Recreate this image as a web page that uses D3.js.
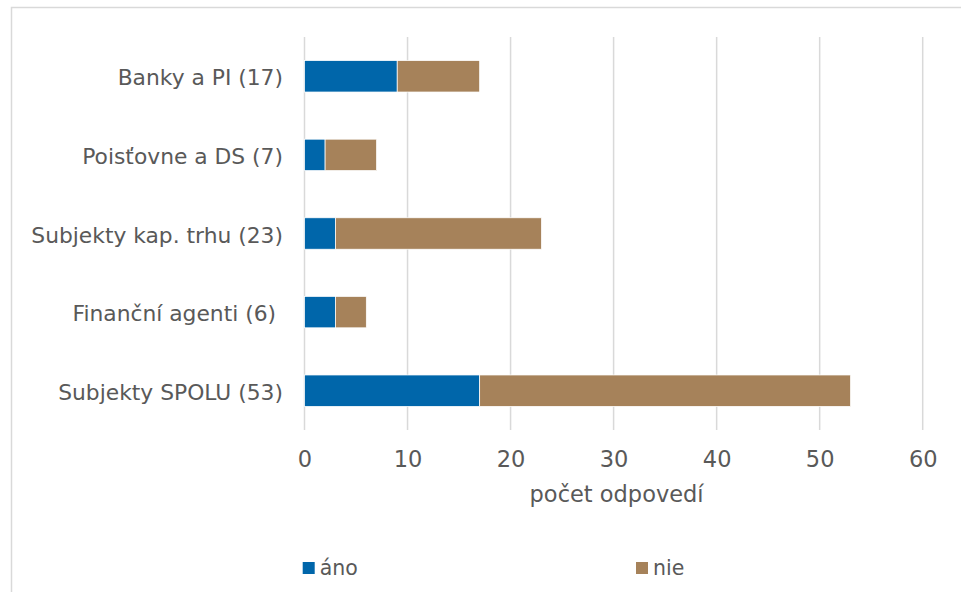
<!DOCTYPE html>
<html>
<head>
<meta charset="utf-8">
<script src="https://cdn.jsdelivr.net/npm/d3@7"></script>
<style>
  html, body { margin: 0; padding: 0; background: #fff; }
  svg { display: block; font-family: Verdana, "DejaVu Sans", sans-serif; }
  text { white-space: pre; }
</style>
</head>
<body>
<svg id="chart" width="961" height="592"></svg>
<script>
// Categories (top to bottom) and the two answer series
const categories = ["Banky a PI (17)", "Poisťovne a DS (7)", "Subjekty kap. trhu (23)", "Finanční agenti (6) ", "Subjekty SPOLU (53)"];
const ano = [9, 2, 3, 3, 17];
const nie = [8, 5, 20, 3, 36];
const seriesNames = ["áno", "nie"];
const seriesColors = ["#0066AA", "#A6825A"];
const xTicks = [0, 10, 20, 30, 40, 50, 60];
const xTitle = "počet odpovedí";

const svg = d3.select("#chart");
const textColor = "#595959";
const gridColor = "#D9D9D9";
const fontSize = 22.5;
const labelSize = 21.8;

// outer frame
svg.append("rect")
  .attr("x", 11.5).attr("y", 7.5)
  .attr("width", 1000).attr("height", 700)
  .attr("fill", "none").attr("stroke", gridColor).attr("stroke-width", 1.5);

const plot = { left: 304.5, right: 922.7, top: 37, bottom: 430 };

const x = d3.scaleLinear().domain([0, 60]).range([plot.left, plot.right]);
const y = d3.scaleBand().domain(categories).range([plot.top, plot.bottom]).paddingInner(0.6).paddingOuter(0.3);

// vertical gridlines
svg.append("g").selectAll("line").data(xTicks).join("line")
  .attr("x1", d => x(d)).attr("x2", d => x(d))
  .attr("y1", plot.top).attr("y2", plot.bottom)
  .attr("stroke", gridColor).attr("stroke-width", 1.5);

// x axis tick labels
const xAxis = d3.axisBottom(x).tickValues(xTicks).tickSize(0).tickPadding(0).tickFormat(d3.format("d"));
const gx = svg.append("g").attr("transform", `translate(0,${plot.bottom})`).call(xAxis);
gx.select(".domain").remove();
gx.selectAll("text").attr("fill", textColor).attr("font-size", fontSize).attr("y", 37).attr("dy", 0)
  .style("font-family", "Verdana, 'DejaVu Sans', sans-serif");

// axis title
svg.append("text")
  .attr("x", (plot.left + plot.right) / 2 + 3).attr("y", 502)
  .attr("text-anchor", "middle").attr("fill", textColor).attr("font-size", fontSize)
  .text(xTitle);

// category labels
const yAxis = d3.axisLeft(y).tickSize(0).tickPadding(0);
const gy = svg.append("g").attr("transform", `translate(283,0)`).call(yAxis);
gy.select(".domain").remove();
gy.selectAll("text").attr("fill", textColor).attr("font-size", labelSize).attr("dy", "0.42em")
  .style("font-family", "Verdana, 'DejaVu Sans', sans-serif");

// stacked bars
const rows = categories.map((c, i) => ({ cat: c, "áno": ano[i], "nie": nie[i] }));
const stacked = d3.stack().keys(seriesNames)(rows);
svg.append("g").selectAll("g").data(stacked).join("g")
  .attr("fill", (d, i) => seriesColors[i])
  .selectAll("rect").data(d => d).join("rect")
  .attr("x", d => x(d[0]))
  .attr("y", d => y(d.data.cat))
  .attr("width", d => x(d[1]) - x(d[0]))
  .attr("height", y.bandwidth())
  .attr("stroke", "#fff").attr("stroke-width", 0.75);

// legend
const legendX = [302.7, 636];
const lg = svg.append("g").selectAll("g").data(seriesNames).join("g")
  .attr("transform", (d, i) => `translate(${legendX[i]},562)`);
lg.append("rect").attr("width", 12).attr("height", 12).attr("fill", (d, i) => seriesColors[i]);
lg.append("text").attr("x", 17).attr("y", 13).attr("fill", textColor).attr("font-size", 20.5).text(d => d);
</script>
</body>
</html>
